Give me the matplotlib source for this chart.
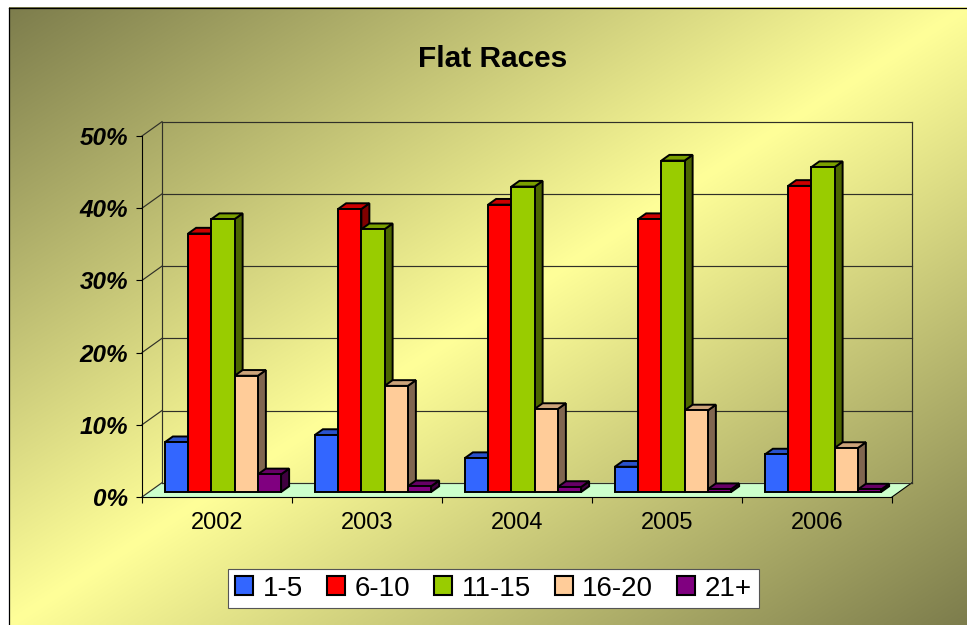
import numpy as np
import matplotlib
matplotlib.use("Agg")
import matplotlib.pyplot as plt
from matplotlib.patches import Polygon, Patch

plt.rcParams['font.family'] = ['Liberation Sans', 'DejaVu Sans']

# data (percent of runners by field size)
years = ['2002', '2003', '2004', '2005', '2006']
series = ['1-5', '6-10', '11-15', '16-20', '21+']
v_1_5 = [6.9, 7.9, 4.7, 3.5, 5.2]
v_6_10 = [35.8, 39.2, 39.8, 37.8, 42.4]
v_11_15 = [37.8, 36.4, 42.3, 45.9, 45.0]
v_16_20 = [16.1, 14.7, 11.5, 11.3, 6.1]
v_21 = [2.45, 0.8, 0.7, 0.4, 0.35]
values = [v_1_5, v_6_10, v_11_15, v_16_20, v_21]
yticks = [0, 10, 20, 30, 40, 50]

front_cols = ['#3366ff', '#ff0000', '#99cc00', '#ffcc99', '#800080']
top_cols = ['#2a52cc', '#cc0000', '#7a9f00', '#cca37a', '#660066']
side_cols = ['#1a3380', '#800000', '#4d6600', '#806650', '#400040']

W, H = 967, 625
fig = plt.figure(figsize=(W / 100, H / 100), dpi=100)

# background gradient (dark olive -> light yellow -> dark olive, diagonal)
bg = fig.add_axes([0, 0, 1, 1], zorder=-5)
bg.set_xlim(0, W)
bg.set_ylim(H, 0)
bg.axis('off')
gx, gy = np.meshgrid(np.linspace(0, 1, 300), np.linspace(0, 1, 200))
t = gx + gy
f = np.clip(1 - np.abs(t - 1), 0, 1)
dark = np.array([0.49, 0.49, 0.30])
light = np.array([1.0, 1.0, 0.6])
img = dark + (light - dark) * f[..., None]
bg.imshow(img, extent=(9, W, H, 7.5), aspect='auto', interpolation='bilinear')
bg.plot([9, 9], [H, 7.5], color='black', lw=0.9)
bg.plot([9, W], [7.5, 7.5], color='black', lw=0.9)

# main axes = front plane of the 3d box
left, right, top, bottom = 142, 892, 136, 497
ax = fig.add_axes([left / W, 1 - bottom / H, (right - left) / W, (bottom - top) / H])
ax.set_xlim(0, 5)
ax.set_ylim(0, 50)
ax.patch.set_visible(False)
px_x = (right - left) / 5.0
px_y = (bottom - top) / 50.0

# depth offsets (pixels -> data units)
DX, DY = 20 / px_x, 14.3 / px_y
FX, FY = 6 / px_x, 5 / px_y
BX, BY = 14 / px_x, 10.7 / px_y

grid_c = '#303028'
# floor
ax.add_patch(Polygon([(0, 0), (5, 0), (5 + DX, DY), (DX, DY)], closed=True,
                     facecolor='#ccffcc', edgecolor='none', zorder=0.5, clip_on=False))
ax.plot([5, 5 + DX], [0, DY], color='black', lw=0.8, clip_on=False, zorder=1)
# back wall + left wall gridlines
for yv in yticks:
    ax.plot([DX, 5 + DX], [yv + DY, yv + DY], color=grid_c, lw=0.85, clip_on=False, zorder=1)
    ax.plot([0, DX], [yv, yv + DY], color=grid_c, lw=0.85, clip_on=False, zorder=1)
ax.plot([DX, DX], [DY, 50 + DY], color=grid_c, lw=0.85, clip_on=False, zorder=1)
ax.plot([5 + DX, 5 + DX], [DY, 50 + DY], color=grid_c, lw=0.85, clip_on=False, zorder=1)

# 3d bars
bw = 0.155
cat_x = np.arange(len(years)) + 0.5
elw = 1.4
for j, vals in enumerate(values):
    xs = cat_x + (j - 2) * bw
    z = 3 + j * 0.01
    ax.bar(xs + FX, vals, bw, bottom=FY, color=front_cols[j], edgecolor='black',
           linewidth=elw, zorder=z + 0.005, clip_on=False)
    for xc, v in zip(xs, vals):
        x0, x1 = xc - bw / 2, xc + bw / 2
        topf = [(x0 + FX, v + FY), (x1 + FX, v + FY), (x1 + BX, v + BY), (x0 + BX, v + BY)]
        side = [(x1 + FX, FY), (x1 + FX, v + FY), (x1 + BX, v + BY), (x1 + BX, BY)]
        ax.add_patch(Polygon(side, closed=True, facecolor=side_cols[j], edgecolor='black',
                             lw=elw, zorder=z, clip_on=False))
        ax.add_patch(Polygon(topf, closed=True, facecolor=top_cols[j], edgecolor='black',
                             lw=elw, zorder=z, clip_on=False))

# axes styling
for s in ['top', 'right']:
    ax.spines[s].set_visible(False)
for s in ['left', 'bottom']:
    ax.spines[s].set_linewidth(0.8)
    ax.spines[s].set_color('black')
ax.set_yticks(yticks)
ax.set_yticklabels(['%d%%' % v for v in yticks], fontsize=17.5, fontweight='bold',
                   fontstyle='italic')
ax.tick_params(axis='y', direction='out', length=4.3, width=0.8, pad=5.8)
ax.set_xticks(range(6))
ax.set_xticklabels([])
ax.tick_params(axis='x', which='major', direction='out', length=4.3, width=0.8)
ax.set_xticks(cat_x, minor=True)
ax.set_xticklabels(years, minor=True, fontsize=17)
ax.tick_params(axis='x', which='minor', length=0, pad=10.5)

fig.text(493 / W, 1 - 66.7 / H, 'Flat Races', ha='center', va='baseline',
         fontsize=21.5, fontweight='bold')

handles = [Patch(facecolor=c, edgecolor='black', linewidth=1.5) for c in front_cols]
leg = fig.legend(handles, series, loc='center', bbox_to_anchor=(493.5 / W, 1 - 588.5 / H),
                 ncol=5, fontsize=20, handlelength=0.65, handleheight=0.65,
                 handletextpad=0.35, columnspacing=0.85, borderpad=0.25,
                 fancybox=False, framealpha=1, edgecolor='#555555')
leg.get_frame().set_linewidth(0.8)

fig.savefig('out.png', dpi=100)
